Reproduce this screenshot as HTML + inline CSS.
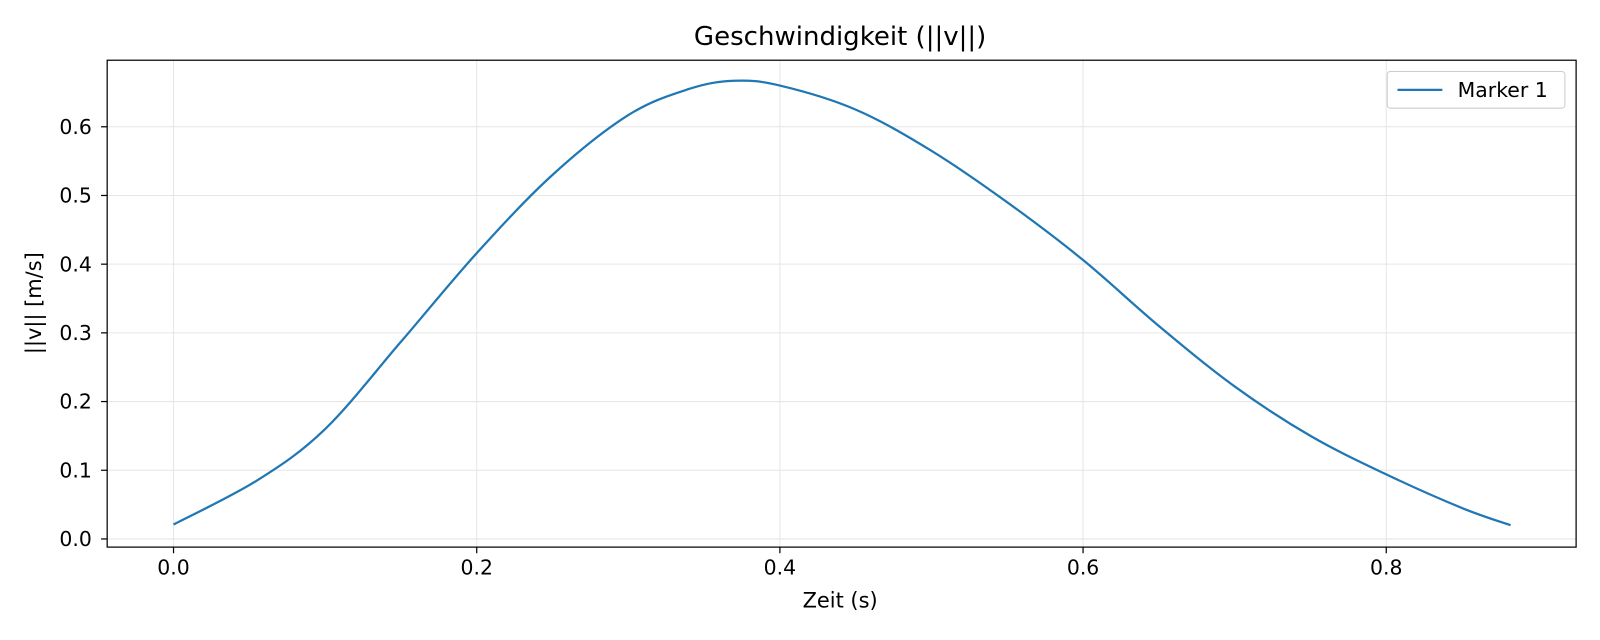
<!DOCTYPE html>
<html><head><meta charset="utf-8"><style>
html,body{margin:0;padding:0;background:#fff;overflow:hidden;width:1600px;height:640px}
svg{display:block}
</style></head><body>
<svg id="chart" width="1600" height="640" viewBox="0 0 1567.4 627" preserveAspectRatio="none" xmlns="http://www.w3.org/2000/svg" font-family="DejaVu Sans, Liberation Sans, sans-serif">
<rect width="1600" height="640" fill="#fff"/>
<g id="grid"></g>
<g id="ticks"></g>
<path id="line" fill="none" stroke="#1f77b4" stroke-width="2.2"/>
<rect x="105" y="59" width="1439" height="477" fill="none" stroke="#000" stroke-width="1.2"/>
<text x="823" y="44" font-size="25.5" text-anchor="middle">Geschwindigkeit (||v||)</text>
<text x="823" y="595" font-size="20.5" text-anchor="middle">Zeit (s)</text>
<text transform="translate(40,297) rotate(-90)" font-size="20.5" text-anchor="middle">||v|| [m/s]</text>
<g>
<rect x="1359" y="70" width="174" height="36" rx="3" fill="#fff" stroke="#ccc"/>
<line x1="1369" y1="88" x2="1413" y2="88" stroke="#1f77b4" stroke-width="2.2"/>
<text x="1428" y="95" font-size="20">Marker 1</text>
</g>
</svg>
<script>
const times=[0,0.055,0.1,0.15,0.2,0.25,0.3,0.34,0.37,0.4,0.45,0.5,0.55,0.6,0.65,0.7,0.75,0.8,0.85,0.882];
const speeds=[0.021,0.085,0.16,0.287,0.416,0.53,0.617,0.655,0.667,0.66,0.625,0.565,0.49,0.406,0.31,0.222,0.15,0.094,0.045,0.02];
const xTicks=[0,0.2,0.4,0.6,0.8];
const xTickLabels=["0.0","0.2","0.4","0.6","0.8"];
const yTicks=[0,0.1,0.2,0.3,0.4,0.5,0.6];
const yTickLabels=["0.0","0.1","0.2","0.3","0.4","0.5","0.6"];
const X=t=>170+t*1485, Y=v=>528-v*673;
const NS="http://www.w3.org/2000/svg";
const grid=document.getElementById('grid'), ticks=document.getElementById('ticks');
function mk(p,tag,a){const e=document.createElementNS(NS,tag);for(const k in a)e.setAttribute(k,a[k]);p.appendChild(e);return e;}
xTicks.forEach((t,i)=>{
 const g=mk(grid,'line',{x1:X(t),x2:X(t),y1:59,y2:536,stroke:'#e6e6e6','stroke-width':1});
 
 
 mk(ticks,'line',{x1:X(t),x2:X(t),y1:536,y2:542,stroke:'#000','stroke-width':1.2});
 const tx=mk(ticks,'text',{x:X(t),y:563,'font-size':20,'text-anchor':'middle'});tx.textContent=xTickLabels[i];
 
 
});
yTicks.forEach((v,i)=>{
 const g=mk(grid,'line',{x1:105,x2:1544,y1:Y(v),y2:Y(v),stroke:'#e6e6e6','stroke-width':1});
 
 
 mk(ticks,'line',{x1:99,x2:105,y1:Y(v),y2:Y(v),stroke:'#000','stroke-width':1.2});
 const tx=mk(ticks,'text',{x:90,y:Y(v)+7,'font-size':20,'text-anchor':'end'});tx.textContent=yTickLabels[i];
 
 
});
const P=times.map((t,i)=>[X(t),Y(speeds[i])]);
let d='M'+P[0][0]+','+P[0][1];
for(let i=0;i<P.length-1;i++){
 const p0=P[Math.max(0,i-1)],p1=P[i],p2=P[i+1],p3=P[Math.min(P.length-1,i+2)];
 const c1=[p1[0]+(p2[0]-p0[0])/6,p1[1]+(p2[1]-p0[1])/6],c2=[p2[0]-(p3[0]-p1[0])/6,p2[1]-(p3[1]-p1[1])/6];
 d+=' C'+c1+' '+c2+' '+p2;
}
document.getElementById('line').setAttribute('d',d);
</script>
</body></html>
